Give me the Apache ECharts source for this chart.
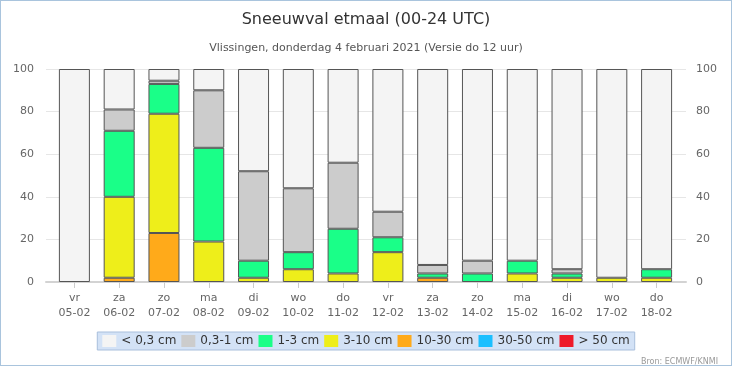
<!DOCTYPE html>
<html><head><meta charset="utf-8">
<script src="https://cdn.jsdelivr.net/npm/echarts@6/dist/echarts.min.js"></script>
<style>html,body{margin:0;padding:0;background:#fff}#c{width:732px;height:366px;box-sizing:border-box;border:1px solid #a9c4dd}</style>
</head><body><div id="c"></div>
<script>
const days = ['vr','za','zo','ma','di','wo','do','vr','za','zo','ma','di','wo','do'];
const dates = ['05-02','06-02','07-02','08-02','09-02','10-02','11-02','12-02','13-02','14-02','15-02','16-02','17-02','18-02'];
const classNames = ['< 0,3 cm','0,3-1 cm','1-3 cm','3-10 cm','10-30 cm','30-50 cm','> 50 cm'];
const classColors = ['#f4f4f4','#cccccc','#1aff88','#eeee1a','#ffaa1a','#1abfff','#ee1a2a'];
const lt03   = [100, 19, 5.5, 10, 48, 56, 44, 67, 92, 90, 90, 94, 98, 94];
const c03_1  = [0, 10, 1.5, 27, 42, 30, 31, 12, 4, 6, 0, 2, 0, 0];
const c1_3   = [0, 31, 14, 44, 8, 8, 21, 7, 2, 4, 6, 2, 0, 4];
const c3_10  = [0, 38, 56, 19, 2, 6, 4, 14, 0, 0, 4, 2, 2, 2];
const c10_30 = [0, 2, 23, 0, 0, 0, 0, 0, 2, 0, 0, 0, 0, 0];
const c30_50 = [0, 0, 0, 0, 0, 0, 0, 0, 0, 0, 0, 0, 0, 0];
const gt50   = [0, 0, 0, 0, 0, 0, 0, 0, 0, 0, 0, 0, 0, 0];
const yTicks = [0, 20, 40, 60, 80, 100];

const seriesData = [lt03, c03_1, c1_3, c3_10, c10_30, c30_50, gt50];
const cats = days.map((d,i)=>d+'\n'+dates[i]);
const font = 'DejaVu Sans';
const chart = echarts.init(document.getElementById('c'));
const series = [];
for (let k = seriesData.length-1; k >= 0; k--) {
  series.push({
    name: classNames[k], type: 'bar', stack: 'tot', xAxisIndex: 1, yAxisIndex: 2,
    barWidth: 31,
    itemStyle: {color: classColors[k], borderColor: '#555', borderWidth: 1},
    data: seriesData[k].map(v => v > 0 ? v : '-')
  });
}
chart.setOption({
  animation: false,
  textStyle: {fontFamily: font},
  title: [
    {text: 'Sneeuwval etmaal (00-24 UTC)', left: 'center', top: 6,
     textStyle: {fontFamily: font, fontSize: 16, fontWeight: 'normal', color: '#333'}},
    {text: 'Vlissingen, donderdag 4 februari 2021 (Versie do 12 uur)', left: 'center', top: 37,
     textStyle: {fontFamily: font, fontSize: 11, fontWeight: 'normal', color: '#555'}},
    {text: 'Bron: ECMWF/KNMI', right: 8, top: 352,
     textStyle: {fontFamily: font, fontSize: 8, fontWeight: 'normal', color: '#999'}}
  ],
  legend: {
    data: classNames, left: 'center', top: 331,
    backgroundColor: '#d3e2f6', borderColor: '#a9bfdc', borderWidth: 1,
    padding: [3, 5, 3, 5], itemWidth: 14, itemHeight: 12, itemGap: 5,
    icon: 'rect',
    itemStyle: {borderWidth: 0},
    textStyle: {fontFamily: font, fontSize: 12, color: '#333'}
  },
  grid: [
    {left: 45, right: 45, top: 68, bottom: 83},
    {left: 51, right: 52, top: 68, bottom: 83}
  ],
  xAxis: [
    {type: 'value', gridIndex: 0, min: 0, max: 1, axisLabel: {show: false}, axisTick: {show: false},
     splitLine: {show: false}, axisLine: {show: true, lineStyle: {color: '#d3d3d3', width: 2}}},
    {type: 'category', gridIndex: 1, data: cats,
     axisLine: {show: false},
     axisTick: {show: true, alignWithLabel: true, length: 6, lineStyle: {color: '#ccc'}},
     axisLabel: {interval: 0, color: '#666', fontSize: 11, lineHeight: 15, margin: 9, fontFamily: font}}
  ],
  yAxis: [
    {type: 'value', gridIndex: 0, min: 0, max: 100, interval: 20,
     axisLabel: {color: '#666', fontSize: 11, margin: 12, fontFamily: font},
     axisLine: {show: false}, axisTick: {show: false},
     splitLine: {lineStyle: {color: '#e6e6e6'}}},
    {type: 'value', gridIndex: 0, position: 'right', min: 0, max: 100, interval: 20,
     axisLabel: {color: '#666', fontSize: 11, margin: 10, fontFamily: font},
     axisLine: {show: false}, axisTick: {show: false}, splitLine: {show: false}},
    {type: 'value', gridIndex: 1, min: 0, max: 100, show: false}
  ],
  series: series
});
</script></body></html>
